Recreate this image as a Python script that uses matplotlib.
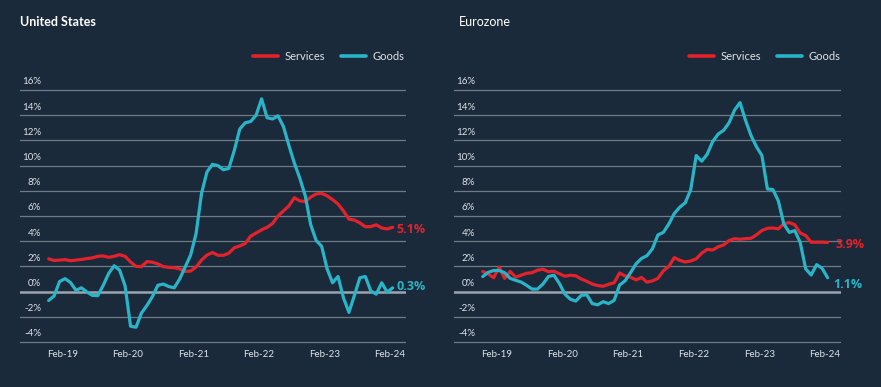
import numpy as np
import pandas as pd
import matplotlib
matplotlib.use("Agg")
import matplotlib.pyplot as plt
import matplotlib.transforms as mtransforms

plt.rcParams['font.family'] = ['Lato', 'DejaVu Sans']

# ---------------- data ----------------
months = pd.date_range("2018-12-01", periods=64, freq="MS")

us_services = [2.6, 2.47, 2.5, 2.54, 2.45, 2.5, 2.55, 2.62, 2.68, 2.8,
               2.83, 2.72, 2.8, 2.93, 2.8, 2.35, 2.0, 1.98, 2.38, 2.33,
               2.2, 1.98, 1.92, 1.9, 1.8, 1.6, 1.63, 1.95, 2.5, 2.9,
               3.1, 2.88, 2.88, 3.05, 3.48, 3.62, 3.82, 4.4, 4.65, 4.9,
               5.1, 5.4, 6.0, 6.4, 6.8, 7.45, 7.2, 7.15, 7.5, 7.75,
               7.8, 7.6, 7.3, 6.95, 6.4, 5.75, 5.68, 5.45, 5.15, 5.16,
               5.3, 5.05, 4.97, 5.1]
us_goods = [-0.71, -0.34, 0.8, 1.03, 0.72, 0.1, 0.3, -0.03, -0.3, -0.32,
            0.5, 1.45, 2.05, 1.7, 0.45, -2.75, -2.83, -1.7, -1.1, -0.4,
            0.5, 0.6, 0.4, 0.3, 1.0, 1.95, 2.9, 4.6, 7.8, 9.5,
            10.1, 10.0, 9.67, 9.78, 11.2, 12.9, 13.4, 13.5, 14.0, 15.3,
            13.8, 13.7, 13.95, 13.1, 11.6, 10.2, 9.0, 7.6, 5.3, 4.05,
            3.6, 1.8, 0.7, 1.2, -0.5, -1.65, -0.3, 1.1, 1.2, 0.05,
            -0.2, 0.7, -0.05, 0.3]
eu_services = [1.59, 1.40, 1.1, 1.95, 1.05, 1.6, 1.15, 1.3, 1.45, 1.5,
               1.7, 1.78, 1.58, 1.62, 1.42, 1.22, 1.3, 1.25, 1.0, 0.82,
               0.6, 0.48, 0.42, 0.58, 0.7, 1.48, 1.24, 1.15, 0.93, 1.12,
               0.75, 0.85, 1.05, 1.65, 2.0, 2.7, 2.48, 2.35, 2.43, 2.6,
               3.05, 3.35, 3.3, 3.55, 3.7, 4.05, 4.2, 4.15, 4.2, 4.23,
               4.5, 4.85, 5.02, 5.05, 4.98, 5.38, 5.48, 5.3, 4.65, 4.45,
               3.92, 3.92, 3.92, 3.9]
eu_goods = [1.19, 1.53, 1.67, 1.67, 1.5, 1.05, 0.9, 0.76, 0.5, 0.2,
            0.2, 0.6, 1.2, 1.3, 0.65, -0.2, -0.6, -0.75, -0.3, -0.25,
            -0.95, -1.05, -0.8, -0.95, -0.7, 0.52, 0.85, 1.5, 2.2, 2.63,
            2.85, 3.4, 4.5, 4.7, 5.37, 6.2, 6.7, 7.05, 8.1, 10.8,
            10.35, 10.9, 11.9, 12.5, 12.8, 13.4, 14.4, 15.0, 13.6, 12.4,
            11.5, 10.8, 8.15, 8.1, 7.2, 5.37, 4.7, 4.84, 3.9, 1.8,
            1.32, 2.14, 1.85, 1.1]

series_names = ["Services", "Goods"]
panel_titles = ["United States", "Eurozone"]
end_labels_us = ["5.1%", "0.3%"]
end_labels_eu = ["3.9%", "1.1%"]
y_ticks = list(range(-4, 17, 2))
y_tick_labels = [f"{v}%" for v in y_ticks]
x_tick_labels = ["Feb-19", "Feb-20", "Feb-21", "Feb-22", "Feb-23", "Feb-24"]

# ---------------- style ----------------
BG = "#1b2a3a"
RED = "#e3222c"
CYAN = "#29b4c8"
GRID = "#6f7a87"
ZERO = "#9ca5af"
TXT = "#dde2e7"

W, H = 881, 387
fig = plt.figure(figsize=(W / 100, H / 100), dpi=100, facecolor=BG)

x = np.arange(len(months))
feb_idx = [i for i, m in enumerate(months) if m.month == 2]
x_ticks = [i + 0.5 for i in feb_idx]


def px_to_fig(x0, x1, ytop, ybot):
    return [x0 / W, 1 - ybot / H, (x1 - x0) / W, (ybot - ytop) / H]


panels = [
    dict(rect=px_to_fig(20, 406, 88, 344), title_x=20, title_w="bold",
         svc=us_services, gds=us_goods, ends=end_labels_us,
         end_off=[(2.9, -1.2), (2.6, 1.1)], legend_right=404),
    dict(rect=px_to_fig(454, 841, 88, 344), title_x=459, title_w="normal",
         svc=eu_services, gds=eu_goods, ends=end_labels_eu,
         end_off=[(5.5, -1.5), (4.3, -5.0)], legend_right=840),
]

for k, p in enumerate(panels):
    ax = fig.add_axes(p["rect"])
    ax.set_facecolor(BG)
    for s in ax.spines.values():
        s.set_visible(False)
    ax.set_xlim(-5.25, 65.45)
    ax.set_ylim(-4.159, 16.159)

    for v in y_ticks:
        if v == 0:
            ax.axhline(v, color=ZERO, lw=1.8, zorder=1)
        else:
            ax.axhline(v, color=GRID, lw=0.9, zorder=1)
    ax.set_yticks([])
    trans = mtransforms.blended_transform_factory(ax.transAxes, ax.transData)
    for v, lab in zip(y_ticks, y_tick_labels):
        ax.annotate(lab, xy=(0.0544, v), xycoords=trans, xytext=(0, 5.8),
                    textcoords="offset points", ha="right", va="center",
                    fontsize=7, color=TXT)

    ax.set_xticks(x_ticks)
    ax.set_xticklabels(x_tick_labels, fontsize=7, color=TXT)
    ax.tick_params(axis="x", length=0, pad=4.5)

    l1, = ax.plot(x, p["svc"], color=RED, lw=2.3, solid_capstyle="round",
                  solid_joinstyle="round", zorder=3, label=series_names[0])
    l2, = ax.plot(x, p["gds"], color=CYAN, lw=2.3, solid_capstyle="round",
                  solid_joinstyle="round", zorder=4, label=series_names[1])

    for vals, lab, col, off in zip([p["svc"], p["gds"]], p["ends"], [RED, CYAN], p["end_off"]):
        ax.annotate(lab, xy=(x[-1], vals[-1]), xytext=off, textcoords="offset points",
                    ha="left", va="center", fontsize=9, fontweight="bold", color=col,
                    family=["Open Sans", "DejaVu Sans"], zorder=5)

    fig.text(p["title_x"] / W, 1 - 26.3 / H, panel_titles[k], fontsize=9,
             fontweight=p["title_w"], color="white", ha="left", va="baseline")

    leg = fig.legend(handles=[l1, l2], loc="center right",
                     bbox_to_anchor=(p["legend_right"] / W, 1 - 56.5 / H),
                     ncol=2, frameon=False, fontsize=8, handlelength=2.25,
                     handletextpad=0.55, columnspacing=1.45, borderpad=0,
                     borderaxespad=0)
    for t in leg.get_texts():
        t.set_color(TXT)
    for h in leg.legend_handles:
        h.set_linewidth(2.6)

fig.savefig("out.png", dpi=100, facecolor=BG)
